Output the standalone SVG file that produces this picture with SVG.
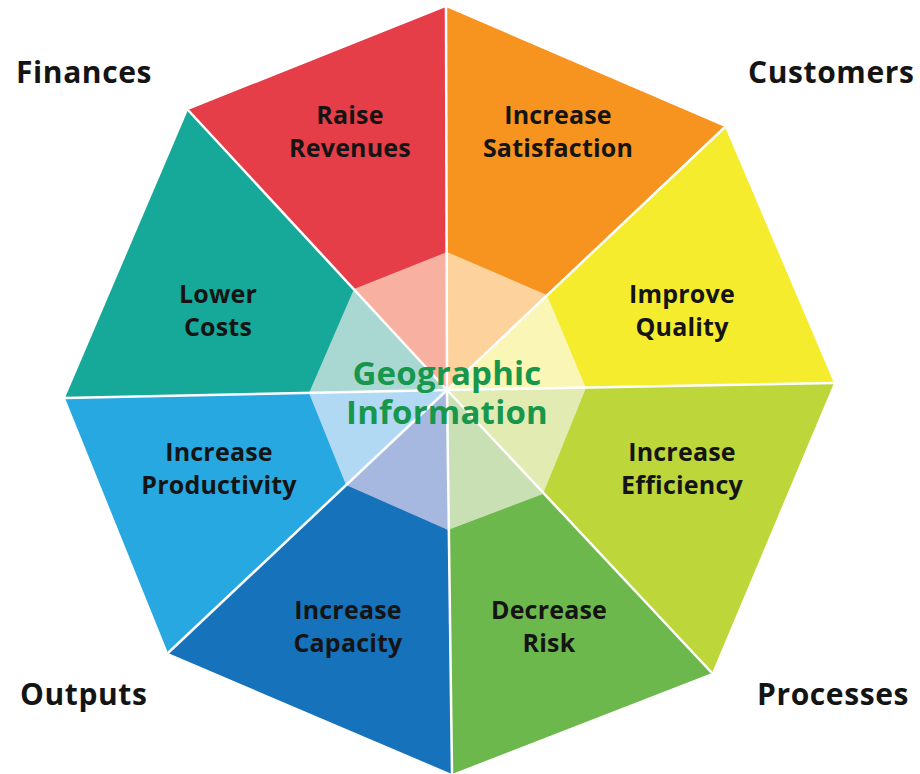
<svg xmlns="http://www.w3.org/2000/svg" width="920" height="774" viewBox="0 0 920 774">
<style>
.sep{stroke:#fff;stroke-width:2.5;fill:none}
.lbl{font-family:"Open Sans","Liberation Sans",sans-serif;font-weight:bold;font-size:25px;letter-spacing:0.2px;fill:#141414;text-anchor:middle}
.corner{font-family:"Open Sans","Liberation Sans",sans-serif;font-weight:bold;font-size:30px;letter-spacing:0.6px;fill:#141414}
.center{font-family:"Open Sans","Liberation Sans",sans-serif;font-weight:bold;font-size:33px;letter-spacing:0.2px;fill:#17974B;text-anchor:middle}
</style>
<rect width="920" height="774" fill="#fff"/>
<g id="raise-revenues">
<polygon points="447,390 188,110 446,7" fill="#E53E48"/>
<polygon points="447,390 354,289 447,252" fill="#F8B1A1"/>
<text class="lbl" x="350" y="124">Raise</text>
<text class="lbl" x="350" y="157">Revenues</text>
</g>
<g id="increase-satisfaction">
<polygon points="447,390 446,7 725,127" fill="#F7941F"/>
<polygon points="447,390 447,252 547,295" fill="#FDD29C"/>
<text class="lbl" x="558" y="124">Increase</text>
<text class="lbl" x="558" y="157">Satisfaction</text>
</g>
<g id="improve-quality">
<polygon points="447,390 725,127 834,383" fill="#F5EC2E"/>
<polygon points="447,390 547,295 586,388" fill="#FAF6B6"/>
<text class="lbl" x="682" y="303">Improve</text>
<text class="lbl" x="682" y="336">Quality</text>
</g>
<g id="increase-efficiency">
<polygon points="447,390 834,383 712,673" fill="#BDD63A"/>
<polygon points="447,390 586,388 543,494" fill="#E2ECB2"/>
<text class="lbl" x="682" y="461">Increase</text>
<text class="lbl" x="682" y="494">Efficiency</text>
</g>
<g id="decrease-risk">
<polygon points="447,390 712,673 452,774" fill="#6DB84C"/>
<polygon points="447,390 543,494 448,530" fill="#C8E0B4"/>
<text class="lbl" x="549" y="619">Decrease</text>
<text class="lbl" x="549" y="652">Risk</text>
</g>
<g id="increase-capacity">
<polygon points="447,390 452,774 168,653" fill="#1672BA"/>
<polygon points="447,390 448,530 346,485" fill="#A7B8E0"/>
<text class="lbl" x="348" y="619">Increase</text>
<text class="lbl" x="348" y="652">Capacity</text>
</g>
<g id="increase-productivity">
<polygon points="447,390 168,653 65,398" fill="#27A8E0"/>
<polygon points="447,390 346,485 309,393" fill="#B2D9F4"/>
<text class="lbl" x="219" y="461">Increase</text>
<text class="lbl" x="219" y="494">Productivity</text>
</g>
<g id="lower-costs">
<polygon points="447,390 65,398 188,110" fill="#16A99A"/>
<polygon points="447,390 309,393 354,289" fill="#A9D8D3"/>
<text class="lbl" x="218" y="303">Lower</text>
<text class="lbl" x="218" y="336">Costs</text>
</g>
<g id="connectors">
<line class="sep" x1="447" y1="390" x2="446" y2="7"/>
<line class="sep" x1="447" y1="390" x2="725" y2="127"/>
<line class="sep" x1="447" y1="390" x2="834" y2="383"/>
<line class="sep" x1="447" y1="390" x2="712" y2="673"/>
<line class="sep" x1="447" y1="390" x2="452" y2="774"/>
<line class="sep" x1="447" y1="390" x2="168" y2="653"/>
<line class="sep" x1="447" y1="390" x2="65" y2="398"/>
<line class="sep" x1="447" y1="390" x2="188" y2="110"/>
</g>
<g id="geographic-information">
<text class="center" x="447" y="385">Geographic</text>
<text class="center" x="447" y="424">Information</text>
</g>
<g id="corner-labels">
<text class="corner" x="16" y="83">Finances</text>
<text class="corner" x="748" y="83">Customers</text>
<text class="corner" x="20" y="705">Outputs</text>
<text class="corner" x="757" y="705">Processes</text>
</g>
</svg>
